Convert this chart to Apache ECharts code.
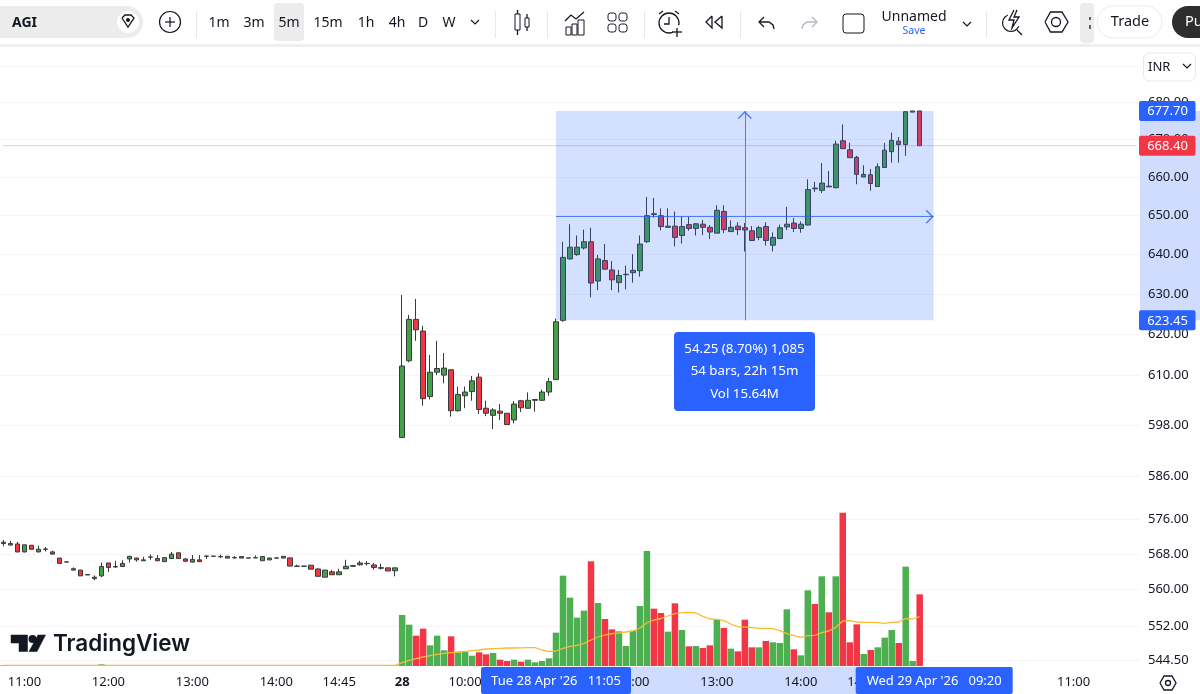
<!DOCTYPE html>
<html>
<head>
<meta charset="utf-8">
<title>AGI</title>
<script src="https://cdn.jsdelivr.net/npm/echarts@6/dist/echarts.min.js"></script>
<style>
html,body{margin:0;padding:0;background:#fff;overflow:hidden}
#chart{width:1200px;height:694px}
</style>
</head>
<body>
<div id="chart"></div>
<script>
// open, close, low, high
var prevDayBars=[
[570.4,570.7,569.8,571.2],[570.05,570.4,570,571],[570.3,568.5,568.4,570.8],[568.5,570.1,568.4,570.1],
[570,569.1,569.1,570],[568.5,569.1,568.4,569.9],[569.1,569.15,568.6,569.6],[568.5,568,567.9,568.8],
[567.1,565.9,565.9,567.1],[566.2,566.25,566.2,566.25],[564.4,564.7,564.3,565],[564.4,563.1,563.1,564.4],
[563.3,563.4,563.3,563.4],[562.8,562.5,562.1,563.2],[563.1,565.2,562.8,566.1],[566,565,564,566],
[565.1,565.2,564.9,566.5],[565.2,565.9,565.2,566.6],[566.9,567.5,566.1,567.6],[567.1,566.7,566.3,567.2],
[566.5,566.7,566.5,567.4],[567.3,567.35,566.7,567.9],[567,566.5,566.4,567.8],[566.3,567.2,566.3,567.2],
[567,568,567,568.5],[568.3,567,567,568.3],[566.9,566.4,566.2,567.1],[566.2,566.8,566.1,567.8],
[566.7,566.3,566.2,567.8],[567.5,567.55,566.9,567.7],[567.5,567.55,567.5,567.55],[567.4,567.45,567.1,567.9],
[567.5,567.1,567.1,567.5],[567.15,567.2,567,567.6],[567.1,567.45,567.1,567.45],[567.1,567.15,567.1,567.15],
[567.15,567.2,567.1,567.7],[566.5,567.45,566.5,567.45],[566.7,567.1,566.6,567.2],[567.1,567.15,567.1,567.15],
[567.1,567.5,567.1,567.5],[567.15,565.3,565.3,567.15],[565.25,565.3,565.2,565.6],[565.25,565.3,565.25,565.3],
[565.5,564.6,564.6,565.5],[564.65,563,563,564.8],[562.8,564.4,562.8,564.4],[564,563.35,563.3,564.4],
[563.35,564,563.3,564.7],[564.7,565.25,564.6,566.7],[565.25,565.4,565.1,565.55],[566,565.6,565.4,566.5],
[565.85,565.9,565.4,566.4],[565.55,565,564.5,566],[564.8,564.95,564.5,565.85],[564.9,564.2,564.2,564.9],
[564.25,564.9,563,564.95]
];
var todayBars=[
[595,612.2,595,629.8],[613.5,623.7,613.1,624.8],[623.7,621.1,618.4,628.8],[620.8,604.3,602.6,622.1],
[604.8,610.7,604.1,614.9],[610.7,611.6,610,618.4],[610,611.7,608,615.4],[611.3,601.4,600,611.3],
[601.4,605.3,601.2,607.2],[605,605.9,602,607.2],[606,608.6,603.8,609.8],[609.5,601.7,600.6,610.5],
[602,600.8,600.1,603.8],[600.3,601.6,597,602],[601.3,600.8,599.2,603],[600.8,598.1,598.1,600.8],
[599.2,603,598.4,603.7],[603.8,602.1,601.1,604],[602,603.9,601.9,605.8],[603.9,604.1,601.2,604.2],
[603.9,605.9,603.8,606.5],[605.9,608.4,605,609.3],[608.9,623.1,608.8,623.9],[623.45,639.3,623.1,643.3],
[638.9,641.9,638.8,647.8],[640,641.9,639.7,644.9],[641.7,643.3,641.3,646.4],[643.3,632.8,629.2,646.9],
[633.3,638.9,631,639.9],[638.5,636.3,636.2,642.7],[636.1,633.6,631,638.4],[632.9,634.7,630.4,636.1],
[634.9,635,631.2,637.2],[635.4,636,632.9,640.1],[635.9,642.7,634.4,644.9],[643.3,650,643,654.9],
[650.5,650.3,649.5,654.6],[650,647.2,646.2,651.9],[647,647.3,646.9,651.9],[647.3,644.4,642.1,651.1],
[644.9,647.2,642.8,649.8],[647.7,646.7,646.1,649.7],[646.7,647.9,644.9,648.1],[647.8,647,645,648.9],
[647,645.8,644,647.6],[645.5,651.4,645.5,652.7],[651.1,646.4,645.5,652.7],[645.9,647,645.8,648.8],
[647.3,646.4,645,648.3],[646.9,646.3,640.8,648.1],[646.1,643.6,643.5,647.3],[644.4,646.9,643.7,647.4],
[647.2,643.6,642.3,648.3],[642.4,644.4,640.8,645.7],[644.1,646.9,644.1,647.7],[647.1,647.8,646.3,652.3],
[648.1,646.7,645.8,649.4],[646.7,647.8,645.6,648.5],[647.6,656.8,647.5,659.5],[657.2,657,656.2,658.8],
[656.6,658.5,655.9,663.8],[657.7,657.5,657.5,661.7],[657.3,668.8,657.1,669.7],[669.7,667.6,667.6,674.1],
[667.3,665.2,665.1,669.2],[665.3,660.8,658.2,665.7],[660.1,660.8,660.1,663.2],[660.7,658.4,656.5,662.2],
[657.6,662.8,657.5,663.7],[662.6,667.2,662.5,669.1],[666.8,669.8,663.9,671.9],[669.6,668.7,663.9,670.7],
[668.7,677.5,665.7,677.7],[677.4,677.7,677.4,677.7],[677.7,668.4,668.4,677.7]
];
// volume in thousands
var prevDayVolume=[4,3,5,4,3,3,2,3,4,2,3,4,2,3,10,4,3,3,3,2,2,2,3,3,3,3,2,3,2,2,1,2,2,2,2,1,2,3,2,1,2,4,1,1,3,4,4,3,3,4,2,3,2,3,2,3,3];
var todayVolume=[306,248,182,224,124,182,94,178,82,84,62,82,70,78,38,30,38,26,38,22,30,46,200,542,410,290,332,628,378,282,220,208,120,212,360,690,344,318,206,376,216,118,120,108,124,280,228,104,88,278,112,112,150,142,138,340,100,64,454,372,538,322,538,920,142,250,72,96,112,170,216,138,596,30,430];
var prevDayVolumeMa=[4,4,4,4,4,4,4,4,4,4,4,4,4,4,4,4,4,4,4,4,4,4,4,4,4,4,4,4,4,4,4,4,4,4,4,4,4,4,4,4,4,4,4,4,4,4,4,4,4,4,4,4,4,4,4,4,4];
var todayVolumeMa=[20,34,44,54,62,70,76,80,84,88,92,96,102,104,106,108,108,109,110,110,96,86,90,106,118,124,136,156,174,186,194,198,204,210,228,260,276,285,300,314,320,322,318,298,282,280,272,252,236,234,230,226,226,224,212,194,182,172,182,184,200,210,232,270,272,264,262,262,260,256,262,264,284,282,296];
var sessions=[["27",10,45,57],["28",9,15,75],["29",9,15,31]];
var tickCategories=["27 11:00","27 12:00","27 13:00","27 14:00","27 14:45","28 09:15","28 10:00","28 11:00","28 12:00","28 13:00","28 14:00","28 14:45","29 10:00","29 11:00"];
var tickLabels=["11:00","12:00","13:00","14:00","14:45","28","10:00","11:00","12:00","13:00","14:00","14:45","10:00","11:00"];
var priceTicks=[544.5,552,560,568,576,586,598,610,620,630,640,650,660,670,680,690];
var lastPrice=668.40;
var rangeTop=677.70;
var rangeBottom=623.45;
var rangeMid=649.75;
var rangeStart="28 11:05";
var rangeEnd="29 09:20";
var rangeMidCategory="28 13:20";

var UP="#43a047";
var DOWN="#f23645";
var BLUE="#2962ff";
var FONT='"Noto Sans",sans-serif';
var INK="#131722";

var categories=[];
sessions.forEach(function(s){
	for(var i=0;i<s[3];i++){
		var m=s[1]*60+s[2]+i*5;
		var hh=Math.floor(m/60);
		var mm=m%60;
		categories.push(s[0]+" "+(hh<10?"0":"")+hh+":"+(mm<10?"0":"")+mm);
	}
});

var allBars=prevDayBars.concat(todayBars);
var volumeData=prevDayVolume.concat(todayVolume).map(function(v,i){
	var b=allBars[i];
	return {value:v,itemStyle:{color:b[1]>=b[0]?"#4caf50":DOWN}};
});

// tip sits at the centre of the symbol box, the first subpath only stretches the box
var chevron="path://M0 -8L0.01 -8L0 -7.99ZM0 0L7 7L6 8L0 2L-6 8L-7 7Z";
var rangeLine={color:BLUE,width:1,type:"solid",opacity:0.8};
var chart=echarts.init(document.getElementById("chart"));
chart.setOption({
	animation:false,
	backgroundColor:"#fff",
	grid:{left:-2.5,width:1142.5,top:47,height:621},
	xAxis:{
		type:"category",
		data:categories,
		boundaryGap:true,
		axisLine:{show:false},
		axisTick:{show:false},
		splitLine:{show:false},
		axisLabel:{
			interval:function(i,name){return tickCategories.indexOf(name)>=0;},
			formatter:function(name){
				var t=tickLabels[tickCategories.indexOf(name)];
				return t=="28"?"{b|28}":t;
			},
			color:INK,fontFamily:FONT,fontSize:13,margin:8,hideOverlap:false,
			rich:{b:{fontWeight:700,fontSize:13,fontFamily:FONT,color:INK}}
		}
	},
	yAxis:[{
		type:"log",
		logBase:10,
		position:"right",
		min:542.8,
		max:695.2,
		axisLine:{show:false},
		axisTick:{show:false,customValues:priceTicks},
		splitLine:{show:true,lineStyle:{color:"#f5f5f7",width:1}},
		axisLabel:{
			customValues:priceTicks,
			formatter:function(v){return Number(v).toFixed(2);},
			color:INK,fontFamily:FONT,fontSize:13,margin:8,align:"left"
		}
	},{
		type:"value",
		min:-12,
		max:3714,
		show:false
	}],
	series:[{
		name:"Volume",
		type:"bar",
		yAxisIndex:1,
		data:volumeData,
		barWidth:6.5,
		z:1
	},{
		name:"Volume MA",
		type:"line",
		yAxisIndex:1,
		data:prevDayVolumeMa.concat(todayVolumeMa),
		showSymbol:false,
		smooth:false,
		z:1.5,
		lineStyle:{color:"#fbb933",width:1.3}
	},{
		name:"Last price",
		type:"line",
		data:[[categories[0],lastPrice],[categories[categories.length-1],lastPrice]],
		showSymbol:false,
		z:5,
		lineStyle:{color:"#f23645",width:1,type:"dotted",opacity:0.6}
	},{
		name:"AGI",
		type:"candlestick",
		data:allBars,
		barWidth:5,
		z:2,
		itemStyle:{color:UP,color0:DOWN,borderColor:"#3a3a3a",borderColor0:"#3a3a3a",borderColorDoji:"#3a3a3a",borderWidth:1},
		markArea:{
			silent:true,
			z:3,
			itemStyle:{color:"rgba(41,98,255,0.2)"},
			data:[[{coord:[rangeStart,rangeTop]},{coord:[rangeEnd,rangeBottom]}]]
		},
		markLine:{
			silent:true,
			z:4,
			animation:false,
			symbol:"none",
			label:{show:false},
			data:[
				[{coord:[rangeMidCategory,rangeBottom],symbol:"none",lineStyle:rangeLine},
				 {coord:[rangeMidCategory,rangeTop],symbol:chevron,symbolSize:[14,16],lineStyle:rangeLine}],
				[{coord:[rangeStart,rangeMid],symbol:"none",lineStyle:rangeLine},
				 {coord:[rangeEnd,rangeMid],symbol:chevron,symbolSize:[14,16],lineStyle:rangeLine}]
			]
		}
	}]
});

function poly(pts,color,w,fill){
	return {type:"polyline",z:20,shape:{points:pts},style:{stroke:color||INK,lineWidth:w||1.3,fill:fill||null}};
}
function box(x,y,w,h,r,fill,stroke,z){
	return {type:"rect",z:z===undefined?20:z,shape:{x:x,y:y,width:w,height:h,r:r||0},style:{fill:fill||null,stroke:stroke||null,lineWidth:stroke?1:0}};
}
function ring(x,y,r,stroke,fill,w){
	return {type:"circle",z:20,shape:{cx:x,cy:y,r:r},style:{stroke:stroke||null,fill:fill||null,lineWidth:w||1.3}};
}
function txt(s,x,y,size,color,align,weight,family){
	return {type:"text",z:21,x:x,y:y,style:{text:s,fontSize:size,fill:color||INK,align:align||"center",verticalAlign:"middle",fontWeight:weight||400,fontFamily:family||FONT}};
}
function sep(x){return box(x,11,1,27,0,"#e8e8e8");}
function chev(x,y){return poly([[x-4,y-2],[x,y+2],[x+4,y-2]],INK,1.2);}

function toolbar(){
	var g=[];
	g.push(box(0,0,1200,44,0,"#fff"));
	g.push(box(0,44,1200,3,0,"#efefef"));
	g.push(box(-20,6,163,32,16,"#ececec"));
	g.push(txt("AGI",12,23,14,INK,"left",700));
	g.push(ring(128,22,11,null,"#fff"));
	g.push(poly([[122,18],[125,15],[131,15],[134,18],[128,27],[122,18]],INK,1.3));
	g.push(ring(128,20,2,null,INK));
	g.push(ring(170,22,10.5,INK,null,1.2));
	g.push(poly([[165,22],[175,22]],INK,1.2));
	g.push(poly([[170,17],[170,27]],INK,1.2));
	g.push(sep(196));
	g.push(box(274,3,30,38,4,"#ececec"));
	[["1m",219],["3m",254],["5m",289],["15m",328],["1h",366],["4h",397],["D",423],["W",449]].forEach(function(t){
		g.push(txt(t[0],t[1],23,14));
	});
	g.push(chev(475,22));
	g.push(sep(495));
	// candles
	g.push(box(515,14,5,16,0,null,INK));
	g.push(poly([[517.5,10],[517.5,14]]));g.push(poly([[517.5,30],[517.5,35]]));
	g.push(box(525,18,4,9,0,null,INK));
	g.push(poly([[527,14],[527,18]]));g.push(poly([[527,27],[527,31]]));
	g.push(sep(547));
	// indicators
	g.push(poly([[565,21],[571,15],[576,19],[584,12]]));
	g.push(box(566,27,5,8,0,null,INK));g.push(box(572,24,5,11,0,null,INK));g.push(box(578,20,6,15,0,null,INK));
	// layout
	[[608,13],[619,13],[608,24],[619,24]].forEach(function(p){g.push(box(p[0],p[1],8,8,2.5,null,INK));});
	g.push(sep(644));
	// alarm
	g.push(ring(669,23,10,INK,null,1.3));
	g.push(poly([[669,17],[669,24],[664,24]]));
	g.push(poly([[659,14],[663,11]]));g.push(poly([[675,11],[679,14]]));
	g.push(box(673,25,11,12,0,"#fff"));
	g.push(poly([[677,28],[677,37]]));g.push(poly([[672,32],[682,32]]));
	// rewind
	g.push(poly([[712,16],[706,22],[712,28],[712,16]]));
	g.push(poly([[722,16],[715,22],[722,28],[722,16]]));
	g.push(sep(740));
	// undo redo
	g.push(poly([[764,17],[759,22],[764,27]]));
	g.push(poly([[759,22],[769,22],[773,25],[774,29]]));
	g.push(poly([[812,17],[817,22],[812,27]],"#b2b5be"));
	g.push(poly([[817,22],[807,22],[803,25],[802,29]],"#b2b5be"));
	g.push(box(843,14,21,19,3,null,INK));
	g.push(txt("Unnamed",914,17,14));
	g.push(txt("Save",914,31,10.5,BLUE));
	g.push(chev(967,24));
	g.push(sep(986));
	// lightning magnifier
	g.push(ring(1011,23,8.5,INK,null,1.2));
	g.push(poly([[1017,30],[1022,35]]));
	g.push(box(1008,9,12,17,0,"#fff"));
	g.push(poly([[1014,10],[1009,20],[1014,20],[1012,28],[1019,17],[1014,17],[1017,10]]));
	// hexagon
	g.push(poly([[1045,22],[1050.5,12],[1062,12],[1068,22],[1062,32],[1050.5,32],[1045,22]]));
	g.push(ring(1056,22,4.5,INK,null,1.3));
	g.push(box(1080,3,14,40,4,"#ececec"));
	g.push(poly([[1090,17],[1090,20]]));g.push(poly([[1090,25],[1090,29]]));
	g.push(box(1097,6,65,32,16,"#fff","#ececec"));
	g.push(txt("Trade",1130,22,14.5));
	g.push(box(1172,6,60,32,16,"#2e2e2e"));
	g.push(txt("Pu",1185,22,14.5,"#fff","left"));
	// currency
	g.push(box(1143.5,53,52,28,6,"#fff","#e8e8e8"));
	g.push(txt("INR",1148,67,13,INK,"left"));
	g.push(chev(1187,66));
	// settings
	g.push(poly([[1160,683],[1164,676],[1172,676],[1176,683],[1172,690],[1164,690],[1160,683]]));
	g.push(ring(1168,683,2.5,INK,null,1.3));
	// watermark
	g.push(poly([[11,635],[27.5,635],[27.5,651.5],[19,651.5],[19,643],[11,643],[11,635]],INK,0.5,INK));
	g.push(ring(32.5,639,4,null,INK));
	g.push(poly([[38,635],[45.5,635],[37,651.5],[29,651.5],[38,635]],INK,0.5,INK));
	g.push(txt("TradingView",53,644,22.5,INK,"left",600,"Inter"));
	return g;
}

function rangeMarks(){
	var g=[];
	var pxTop=chart.convertToPixel({yAxisIndex:0},rangeTop);
	var pxBottom=chart.convertToPixel({yAxisIndex:0},rangeBottom);
	var pxLast=chart.convertToPixel({yAxisIndex:0},lastPrice);
	var pxStart=chart.convertToPixel({xAxisIndex:0},rangeStart);
	var pxEnd=chart.convertToPixel({xAxisIndex:0},rangeEnd);
	// axis highlights sit under the tick labels
	g.push(box(1140,pxTop,60,pxBottom-pxTop,0,"#cfdcfd",null,-1));
	g.push(box(pxStart,667,pxEnd-pxStart,27,0,"#cfdcfd",null,-1));
	[[rangeTop,pxTop,BLUE],[rangeBottom,pxBottom,BLUE],[lastPrice,pxLast,DOWN]].forEach(function(f){
		g.push(box(1139,f[1]-10,56.5,20,2,f[2],null,22));
		g.push(Object.assign(txt(f[0].toFixed(2),1167.5,f[1]+0.5,13,"#fff"),{z:23}));
	});
	g.push(box(pxStart-75,667,150,27,2,BLUE,null,22));
	g.push(Object.assign(txt("Tue 28 Apr '26   11:05",pxStart,681,13,"#fff"),{z:23}));
	g.push(box(pxEnd-78,667,157,27,2,BLUE,null,22));
	g.push(Object.assign(txt("Wed 29 Apr '26   09:20",pxEnd+0.5,681,13,"#fff"),{z:23}));
	// measure label
	g.push(box(674,332,141,79,4,BLUE,null,22));
	g.push(Object.assign(txt("54.25 (8.70%) 1,085",744.5,349,13.3,"#fff"),{z:23}));
	g.push(Object.assign(txt("54 bars, 22h 15m",744.5,371,13.3,"#fff"),{z:23}));
	g.push(Object.assign(txt("Vol 15.64M",744.5,394,13.3,"#fff"),{z:23}));
	return g;
}

chart.setOption({graphic:{elements:toolbar().concat(rangeMarks())}});
</script>
</body>
</html>
